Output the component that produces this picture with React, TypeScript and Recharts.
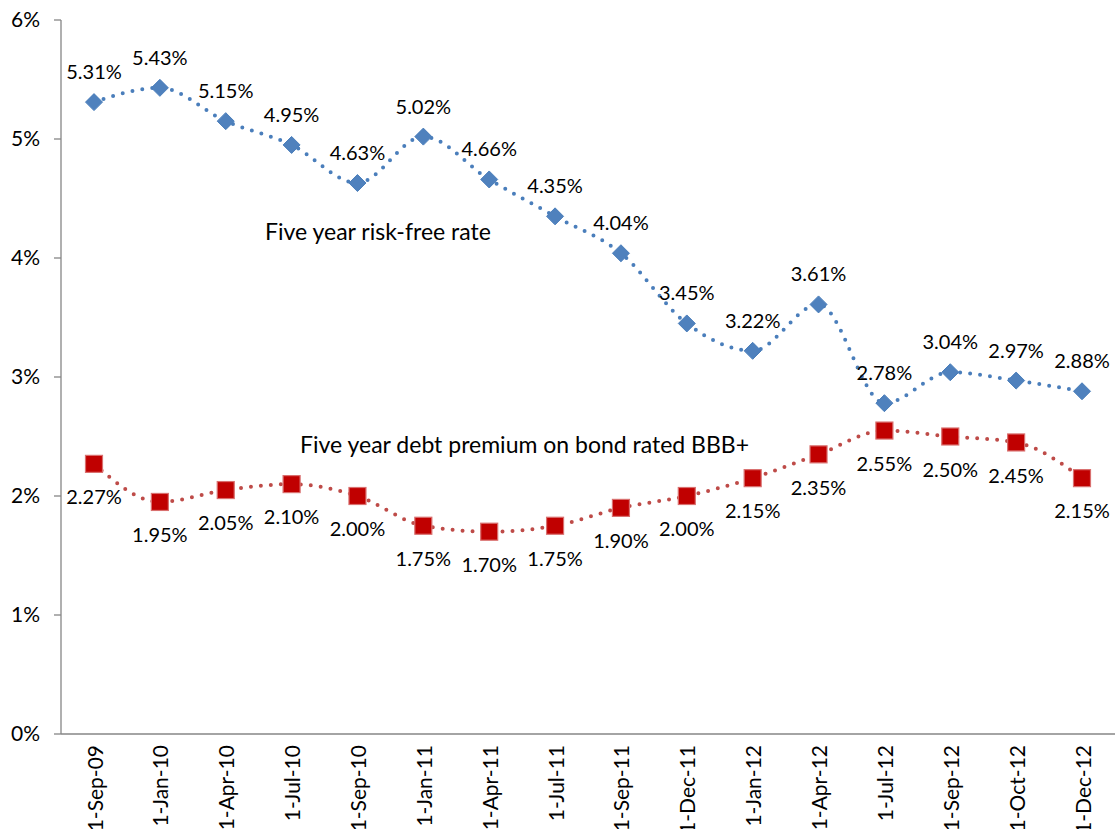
import React from "react";
import { LineChart, Line, XAxis, YAxis, LabelList } from "recharts";

const categories = [
  "1-Sep-09", "1-Jan-10", "1-Apr-10", "1-Jul-10", "1-Sep-10", "1-Jan-11", "1-Apr-11", "1-Jul-11",
  "1-Sep-11", "1-Dec-11", "1-Jan-12", "1-Apr-12", "1-Jul-12", "1-Sep-12", "1-Oct-12", "1-Dec-12",
];
const riskFree = [5.31, 5.43, 5.15, 4.95, 4.63, 5.02, 4.66, 4.35, 4.04, 3.45, 3.22, 3.61, 2.78, 3.04, 2.97, 2.88];
const debtPremium = [2.27, 1.95, 2.05, 2.1, 2.0, 1.75, 1.7, 1.75, 1.9, 2.0, 2.15, 2.35, 2.55, 2.5, 2.45, 2.15];
const yTicks = [0, 1, 2, 3, 4, 5, 6];

const data = categories.map((c, i) => ({ date: c, rf: riskFree[i], dp: debtPremium[i] }));

const FONT = "Lato, 'Open Sans', sans-serif";

const Diamond = (props: any) => {
  const { cx, cy } = props;
  if (cx == null || cy == null) return null;
  const r = 8.5;
  return (
    <path
      d={`M${cx},${cy - r} L${cx + r},${cy} L${cx},${cy + r} L${cx - r},${cy} Z`}
      fill="#4F81BD"
      stroke="#4A7EBB"
      strokeWidth={1}
    />
  );
};

const Square = (props: any) => {
  const { cx, cy } = props;
  if (cx == null || cy == null) return null;
  const s = 17;
  return <rect x={cx - s / 2} y={cy - s / 2} width={s} height={s} fill="#C00000" stroke="#D9706F" strokeWidth={1.2} />;
};

const XTick = (props: any) => {
  const { x, y, payload } = props;
  return (
    <text
      x={x}
      y={y}
      transform={`rotate(-90 ${x} ${y})`}
      textAnchor="end"
      dominantBaseline="central"
      fontFamily={FONT}
      fontSize={21}
      fill="#000"
    >
      {payload.value}
    </text>
  );
};

const fmt = (v: any) => `${Number(v).toFixed(2)}%`;

const annoStyle: React.CSSProperties = {
  position: "absolute",
  fontFamily: FONT,
  fontSize: 23,
  lineHeight: "28px",
  color: "#000",
  whiteSpace: "nowrap",
};

export default function App() {
  return (
    <div style={{ position: "absolute", left: 0, top: 0, width: 1115, height: 829, background: "#fff", overflow: "hidden" }}>
      <LineChart width={1115} height={829} data={data} margin={{ top: 20, right: 0, left: 0, bottom: 0 }}>
        <XAxis
          dataKey="date"
          interval={0}
          padding={{ left: 33, right: 33 }}
          height={95}
          axisLine={{ stroke: "#868686", strokeWidth: 1.3 }}
          tickLine={false}
          tickMargin={11}
          tickSize={0}
          tick={<XTick />}
        />
        <YAxis
          domain={[0, 6]}
          ticks={yTicks}
          width={61}
          interval={0}
          tickFormatter={(v: number) => `${v}%`}
          axisLine={{ stroke: "#868686", strokeWidth: 1.3 }}
          tickLine={{ stroke: "#868686", strokeWidth: 1.3 }}
          tickSize={7}
          tickMargin={14}
          tick={{ fontFamily: FONT, fontSize: 21, fill: "#000" }}
        />
        <Line
          dataKey="rf"
          type="monotone"
          stroke="#4A7EBB"
          strokeWidth={4}
          strokeDasharray="0 10"
          strokeLinecap="round"
          dot={<Diamond />}
          activeDot={false}
          isAnimationActive={false}
        >
          <LabelList
            dataKey="rf"
            position="top"
            offset={23}
            formatter={fmt}
            style={{ fontFamily: FONT, fontSize: 20, fill: "#000" }}
          />
        </Line>
        <Line
          dataKey="dp"
          type="monotone"
          stroke="#BE4B48"
          strokeWidth={4}
          strokeDasharray="0 10"
          strokeLinecap="round"
          dot={<Square />}
          activeDot={false}
          isAnimationActive={false}
        >
          <LabelList
            dataKey="dp"
            position="bottom"
            offset={26}
            formatter={fmt}
            style={{ fontFamily: FONT, fontSize: 20, fill: "#000" }}
          />
        </Line>
      </LineChart>
      <div style={{ ...annoStyle, left: 265, top: 217 }}>Five year risk-free rate</div>
      <div style={{ ...annoStyle, left: 300, top: 430 }}>Five year debt premium on bond rated BBB+</div>
    </div>
  );
}
